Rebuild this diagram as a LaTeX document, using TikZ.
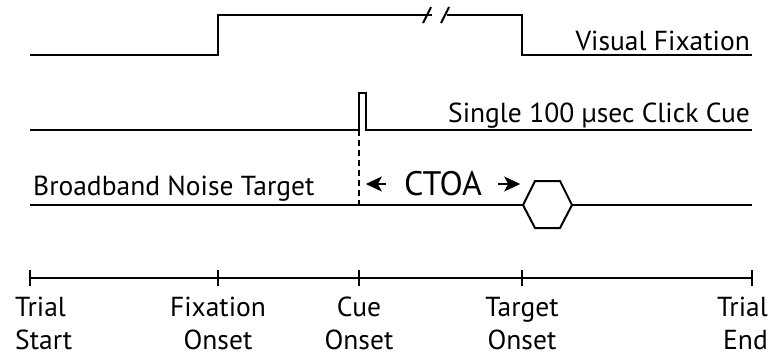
\documentclass[tikz,border=0pt]{standalone}
\usepackage{fontspec}
\setmainfont{PT Sans}
\usetikzlibrary{arrows.meta,positioning}

\begin{document}
\begin{tikzpicture}[x=1pt,y=-1pt,>={Stealth[length=16pt,width=15pt,inset=4pt]},font=\fontsize{27.5}{33}\selectfont]
	\tikzset{sig/.style={line width=2pt},
		cueline/.style={line width=1.6pt,dash pattern=on 6pt off 4pt},
		lbl/.style={align=center,inner sep=0pt},
		trace/.style={inner sep=0pt}
	}
	\useasboundingbox (0,0) rectangle (773,360);

	% time axis
	\coordinate (tstart) at (30,278);
	\coordinate (tfix) at (218,278);
	\coordinate (tcue) at (359,278);
	\coordinate (ttgt) at (522,278);
	\coordinate (tend) at (752,278);
	\draw[sig] (tstart) -- (tend);
	\foreach \t in {tstart,tfix,tcue,ttgt,tend}
		\draw[sig] ([yshift=8pt]\t) -- ([yshift=-8pt]\t);

	\node[lbl,align=left,anchor=north west] (lstart) at (15,297) {Trial\\Start};
	\node[lbl,anchor=north] (lfix) at (tfix |- lstart.north) {Fixation\\Onset};
	\node[lbl,anchor=north] (lcue) at (tcue |- lstart.north) {Cue\\Onset};
	\node[lbl,anchor=north] (ltgt) at (ttgt |- lstart.north) {Target\\Onset};
	\node[lbl,align=right,anchor=north east] (lend) at (768,297) {Trial\\End};

	% visual fixation
	\node[trace,anchor=base east] (fixname) at (750,50) {Visual Fixation};
	\draw[sig] (30,55) -- (218,55) -- (218,15) -- (432,15);
	\draw[sig] (447,15) -- (522,15) -- (522,55) -- (752,55);
	\draw[sig] (423,23) -- (431,7);
	\draw[sig] (441,23) -- (449,7);

	% click cue
	\node[trace,anchor=base east] (cuename) at (750,122) {Single 100 µsec Click Cue};
	\draw[sig] (30,130) -- (359,130) -- (359,93) -- (366,93) -- (366,130) -- (752,130);

	% noise target
	\node[trace,anchor=base west] (tgtname) at (33,195) {Broadband Noise Target};
	\draw[sig] (30,205) -- (523,205);
	\draw[sig] (523,205) -- (535,181) -- (560,181) -- (572,205) -- (560,228) -- (535,228) -- cycle;
	\draw[sig] (572,205) -- (752,205);
	\draw[cueline] (359,130) -- (359,205);

	% cue-target onset asynchrony
	\node[trace,font=\fontsize{34}{40}\selectfont] (ctoa) at (443,184) {CTOA};
	\draw[->,sig] ([xshift=-18pt]ctoa.west) -- ([xshift=-38pt]ctoa.west);
	\draw[->,sig] ([xshift=16pt]ctoa.east) -- ([xshift=38pt]ctoa.east);
\end{tikzpicture}
\end{document}
